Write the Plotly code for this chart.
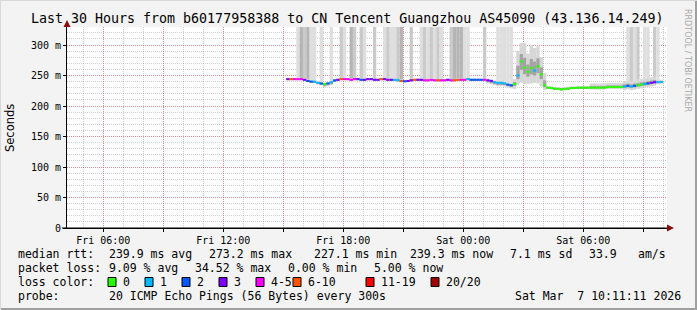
import plotly.graph_objects as go
from datetime import datetime, timedelta

# ---------------- data ----------------
title_text = "Last 30 Hours from b60177958388 to CN Tencent Guangzhou AS45090 (43.136.14.249)"
range_start = "2026-03-06 04:11:11"
range_end = "2026-03-07 10:11:11"
data_start = datetime(2026, 3, 6, 15, 14)
step_minutes = 10

median_ms = [
    244, 244, 244, 244, 244, 243, 241, 240, 240, 238,
    237, 236, 237, 239, 242, 243, 244, 244, 244, 243,
    244, 244, 243, 243, 244, 244, 243, 243, 244, 244,
    243, 243, 243, 242, 241, 240.5, 241, 242, 243, 243,
    243, 242, 242, 243, 242, 242, 242, 242, 243, 242,
    242, 243, 243, 243, 244, 243, 243, 243, 243, 243,
    242, 241, 239, 238, 238, 237, 235, 234, 236, 250,
    273.2, 263, 256, 262, 258, 265, 252, 234, 230, 229.5,
    228.5, 228, 227.1, 228, 228.5, 229.5, 229.5, 230, 230, 230,
    230, 230, 230, 230, 230, 230, 231, 231, 231, 231,
    231, 232, 233, 232, 233, 234, 235, 236, 237, 238,
    239, 239, 239.3,
]

# pings lost out of 20 in each step
loss_pings = [
    3, 7, 4, 4, 4, 3, 2, 2, 1, 1,
    2, 0, 2, 1, 2, 3, 7, 4, 4, 4,
    4, 3, 2, 3, 3, 3, 3, 3, 7, 3,
    3, 3, 1, 1, 7, 2, 3, 3, 7, 3,
    3, 4, 4, 4, 4, 7, 4, 4, 3, 4,
    7, 7, 4, 4, 1, 2, 2, 2, 2, 4,
    3, 3, 1, 1, 1, 1, 2, 2, 0, 1,
    0, 0, 0, 0, 1, 0, 0, 0, 0, 0,
    0, 0, 0, 0, 0, 0, 0, 0, 0, 0,
    0, 0, 0, 0, 0, 0, 0, 0, 0, 0,
    0, 1, 2, 1, 2, 0, 0, 1, 2, 3,
    3, 1, 1,
]

# pings far above the graph top in each step (drawn as tall smoke)
outlier_pings = [
    0, 0, 0, 1, 3, 2, 3, 1, 1, 0,
    1, 0, 0, 1, 0, 0, 2, 1, 0, 3,
    2, 0, 2, 1, 0, 0, 2, 0, 0, 1,
    2, 1, 1, 2, 3, 0, 0, 2, 0, 0,
    1, 2, 1, 2, 1, 2, 1, 0, 0, 2,
    3, 3, 3, 1, 1, 0, 0, 0, 0, 2,
    0, 0, 0, 1, 1, 1, 1, 1, 0, 0,
    0, 0, 0, 0, 0, 0, 0, 0, 0, 0,
    0, 0, 0, 0, 0, 0, 0, 0, 0, 0,
    0, 0, 0, 0, 0, 0, 0, 0, 0, 0,
    0, 0, 1, 2, 1, 2, 0, 1, 1, 0,
    2, 1, 0,
]

# spread of the remaining pings below / above the median (ms)
spread_down = [
    2, 2, 2, 2, 2, 2, 2, 2, 2, 3,
    3, 5, 5, 5, 3, 2, 2, 2, 2, 2,
    2, 2, 2, 2, 2, 2, 2, 2, 2, 2,
    2, 2, 2, 2, 2, 2, 2, 2, 2, 2,
    2, 2, 2, 2, 2, 2, 2, 2, 2, 2,
    2, 2, 2, 2, 2, 2, 2, 2, 2, 2,
    5, 5, 5, 5, 5, 5, 5, 5, 8, 15,
    35, 27, 20, 25, 20, 28, 20, 8, 2, 2,
    2, 2, 2, 2, 2, 2, 2, 2, 2, 2,
    2, 3, 3, 3, 3, 3, 3, 3, 3, 3,
    3, 6, 6, 6, 6, 6, 6, 6, 6, 6,
    6, 3, 3,
]
spread_up = [
    2, 2, 2, 2, 2, 2, 2, 2, 2, 2,
    2, 2, 2, 2, 2, 2, 2, 2, 2, 2,
    2, 2, 2, 2, 2, 2, 2, 2, 2, 2,
    2, 2, 2, 2, 2, 2, 2, 2, 2, 2,
    2, 2, 2, 2, 2, 2, 2, 2, 2, 2,
    2, 2, 2, 2, 2, 2, 2, 2, 2, 2,
    3, 3, 3, 3, 3, 3, 3, 3, 8, 40,
    30, 40, 30, 38, 37, 33, 28, 20, 3, 3,
    3, 3, 3, 3, 3, 3, 3, 3, 3, 3,
    3, 7, 7, 7, 7, 7, 7, 7, 7, 7,
    7, 9, 9, 9, 9, 9, 9, 9, 9, 9,
    9, 4, 4,
]

y_ticks = [0, 50, 100, 150, 200, 250, 300]
y_ticktext = ["0", "50 m", "100 m", "150 m", "200 m", "250 m", "300 m"]
x_tickvals = ["2026-03-06 06:00", "2026-03-06 09:00", "2026-03-06 12:00", "2026-03-06 15:00",
              "2026-03-06 18:00", "2026-03-06 21:00", "2026-03-07 00:00", "2026-03-07 03:00",
              "2026-03-07 06:00", "2026-03-07 09:00"]
x_ticktext = ["Fri 06:00", "", "Fri 12:00", "", "Fri 18:00", "", "Sat 00:00", "", "Sat 06:00", ""]

loss_labels = ["0", "1", "2", "3", "4-5", "6-10", "11-19", "20/20"]
loss_colors = ["#26ff00", "#00b8ff", "#0059ff", "#7e00ff", "#ff00ff", "#ff5500", "#ff0000", "#a10000"]
loss_upper = [0, 1, 2, 3, 5, 10, 19, 20]

stats_rtt = ["239.9 ms avg", "273.2 ms max", "227.1 ms min", "239.3 ms now", "7.1 ms sd", "33.9", "am/s"]
stats_loss = ["9.09 % avg", "34.52 % max", "0.00 % min", "5.00 % now"]
probe_text = "20 ICMP Echo Pings (56 Bytes) every 300s"
stamp_text = "Sat Mar  7 10:11:11 2026"

# ---------------- figure ----------------
Y_TOP = 329.5
W, H = 697, 310
ML, MR, MT, MB = 67, 30, 27, 82
PW, PH = W - ML - MR, H - MT - MB


def px(x):
    return (x - ML) / PW


def py(y):
    return (H - MB - y) / PH


def nb(s):
    return s.replace(" ", "\u00a0")


def loss_color(n):
    for up, c in zip(loss_upper, loss_colors):
        if n <= up:
            return c
    return loss_colors[-1]


n = len(median_ms)
times = [data_start + timedelta(minutes=step_minutes * i) for i in range(n)]
bw = step_minutes * 60 * 1000

fig = go.Figure()

# tall smoke (outliers)
shade = {1: "#dedede", 2: "#cacaca", 3: "#b5b5b5"}
ox, ob, oh, oc = [], [], [], []
for t, m, u, k in zip(times, median_ms, spread_up, outlier_pings):
    if k > 0:
        ox.append(t)
        ob.append(m + u)
        oh.append(Y_TOP + 20 - (m + u))
        oc.append(shade[min(k, 3)])
fig.add_trace(go.Bar(x=ox, y=oh, base=ob, width=bw, marker=dict(color=oc, line=dict(width=0)),
                     hoverinfo="skip"))

# outer smoke
fig.add_trace(go.Bar(x=times, y=[d + u for d, u in zip(spread_down, spread_up)],
                     base=[m - d for m, d in zip(median_ms, spread_down)], width=bw,
                     marker=dict(color="#d6d6d6", line=dict(width=0)), hoverinfo="skip"))
# inner smoke
fig.add_trace(go.Bar(x=times, y=[(d + u) * 0.4 for d, u in zip(spread_down, spread_up)],
                     base=[m - d * 0.4 for m, d in zip(median_ms, spread_down)], width=bw,
                     marker=dict(color="#a4a4a4", line=dict(width=0)), hoverinfo="skip"))
# median line coloured by loss
fig.add_trace(go.Bar(x=times, y=[3.3] * n, base=[m - 1.65 for m in median_ms], width=bw,
                     marker=dict(color=[loss_color(k) for k in loss_pings], line=dict(width=0)),
                     hoverinfo="skip"))

major_grid = "rgba(255,0,0,0.32)"
minor_grid = "rgba(120,120,120,0.35)"
fig.update_layout(
    width=W, height=H, margin=dict(l=ML, r=MR, t=MT, b=MB),
    paper_bgcolor="#f3f3f3", plot_bgcolor="#ffffff",
    barmode="overlay", showlegend=False,
    font=dict(family="DejaVu Sans Mono", size=10, color="#000000"),
    xaxis=dict(type="date", range=[range_start, range_end], tickvals=x_tickvals, ticktext=x_ticktext,
               showgrid=True, gridcolor=major_grid, griddash="1px,1px", gridwidth=1,
               minor=dict(dtick=3600000, tick0="2026-03-06 00:00", showgrid=True,
                          gridcolor=minor_grid, griddash="1px,1px"),
               showline=True, linecolor="#000000", linewidth=1, ticks="outside", ticklen=3,
               tickcolor="#000000", zeroline=False, tickfont=dict(size=10), fixedrange=True),
    yaxis=dict(range=[0, Y_TOP], tickvals=y_ticks, ticktext=y_ticktext,
               showgrid=True, gridcolor=major_grid, griddash="1px,1px",
               minor=dict(dtick=10, showgrid=True, gridcolor=minor_grid, griddash="1px,1px"),
               showline=True, linecolor="#000000", linewidth=1, ticks="outside", ticklen=3,
               tickcolor="#000000", zeroline=False, tickfont=dict(size=10), fixedrange=True),
)

ann = []
mono = "DejaVu Sans Mono"


def text(x, y, s, size=11.5, anchor="left", family=mono, color="#000000", angle=0):
    ann.append(dict(x=px(x), y=py(y), xref="paper", yref="paper", text=nb(s), showarrow=False,
                    xanchor=anchor, yanchor="middle", textangle=angle,
                    font=dict(family=family, size=size, color=color)))


text(347, 19, title_text, size=13.3, anchor="center")
text(10, 128, "Seconds", size=11.5, anchor="center", family="DejaVu Sans", angle=-90)
text(688, 60, "RRDTOOL / TOBI OETIKER", size=8, anchor="center", family="DejaVu Sans",
     color="#a8a8a8", angle=90)

row1, row2, row3, row4 = 254, 268, 282, 296
text(16, row1, "median rtt:")
for xpos, s in zip([107, 207, 312, 408, 508, 587, 636], stats_rtt):
    text(xpos, row1, s)
text(16, row2, "packet loss:")
for xpos, s in zip([107, 193, 286, 372], stats_loss):
    text(xpos, row2, s)
text(16, row3, "loss color:")
box_x = [108, 145, 182, 219, 256, 293, 366, 431]
shapes = []
for bx, lab, col in zip(box_x, loss_labels, loss_colors):
    shapes.append(dict(type="rect", xref="paper", yref="paper", x0=px(bx), x1=px(bx + 8),
                       y0=py(row3 + 4.5), y1=py(row3 - 4.5), fillcolor=col,
                       line=dict(color="#000000", width=1)))
    text(bx + 13, row3, lab)
text(16, row4, "probe:")
text(107, row4, probe_text)
text(513, row4, stamp_text)

# axis arrows
arrow_col = "#8b0a0a"
shapes.append(dict(type="path", xref="paper", yref="paper",
                   path=f"M {px(67)} {py(20)} L {px(63.5)} {py(27)} L {px(70.5)} {py(27)} Z",
                   fillcolor=arrow_col, line=dict(width=0)))
shapes.append(dict(type="path", xref="paper", yref="paper",
                   path=f"M {px(674)} {py(228)} L {px(667)} {py(224.5)} L {px(667)} {py(231.5)} Z",
                   fillcolor=arrow_col, line=dict(width=0)))
shapes.append(dict(type="line", xref="paper", yref="paper", x0=px(62), x1=px(667), y0=0, y1=0,
                   line=dict(color="#000000", width=1)))
# frame
shapes.append(dict(type="line", xref="paper", yref="paper", x0=px(0), x1=px(697), y0=py(309), y1=py(309),
                   line=dict(color="#a0a0a0", width=2)))
shapes.append(dict(type="line", xref="paper", yref="paper", x0=px(696), x1=px(696), y0=py(0), y1=py(310),
                   line=dict(color="#a0a0a0", width=2)))
shapes.append(dict(type="line", xref="paper", yref="paper", x0=px(0), x1=px(697), y0=py(0.5), y1=py(0.5),
                   line=dict(color="#d8d8d8", width=1)))
shapes.append(dict(type="line", xref="paper", yref="paper", x0=px(0.5), x1=px(0.5), y0=py(0), y1=py(310),
                   line=dict(color="#d8d8d8", width=1)))

fig.update_layout(annotations=ann, shapes=shapes)
fig.write_html("out.html")
